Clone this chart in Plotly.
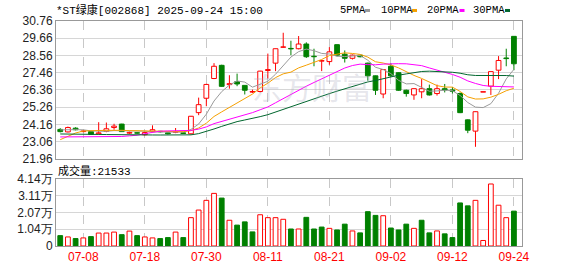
import plotly.graph_objects as go

# ---------------- data ----------------
dates = ["07-03", "07-04", "07-07", "07-08", "07-09", "07-10", "07-11", "07-14", "07-15", "07-16",
         "07-17", "07-18", "07-21", "07-22", "07-23", "07-24", "07-25", "07-28", "07-29", "07-30",
         "07-31", "08-01", "08-04", "08-05", "08-06", "08-07", "08-08", "08-11", "08-12", "08-13",
         "08-14", "08-15", "08-18", "08-19", "08-20", "08-21", "08-22", "08-25", "08-26", "08-27",
         "08-28", "08-29", "09-01", "09-02", "09-03", "09-04", "09-05", "09-08", "09-09", "09-10",
         "09-11", "09-12", "09-15", "09-16", "09-17", "09-18", "09-19", "09-22", "09-23", "09-24"]

opens = [23.84, 23.68, 23.92, 23.70, 23.70, 23.56, 23.72, 23.96, 24.18, 23.60,
         23.62, 23.50, 23.72, 23.71, 23.62, 23.66, 23.62, 23.56, 24.91, 25.83,
         27.09, 27.93, 26.70, 26.89, 26.65, 26.22, 26.26, 27.60, 28.07, 29.08,
         29.00, 28.99, 29.29, 28.50, 28.20, 28.17, 29.25, 28.64, 28.38, 28.58,
         28.07, 27.26, 26.10, 27.87, 27.46, 26.34, 26.04, 26.24, 26.44, 26.13,
         26.44, 26.36, 26.13, 24.45, 23.73, 26.22, 26.60, 27.62, 28.40, 29.78]
highs = [23.92, 24.02, 23.98, 23.78, 23.72, 24.30, 24.28, 24.20, 24.20, 23.70,
         23.64, 23.70, 24.10, 23.74, 23.64, 23.93, 23.66, 24.70, 25.87, 26.75,
         28.07, 27.97, 27.30, 27.40, 26.66, 26.38, 27.58, 28.68, 29.00, 30.01,
         29.50, 29.80, 29.40, 28.99, 28.27, 29.09, 29.27, 28.88, 28.62, 28.60,
         28.10, 27.28, 27.68, 28.07, 27.48, 26.38, 26.46, 27.05, 26.70, 26.70,
         26.74, 26.54, 26.20, 24.48, 24.99, 26.22, 27.53, 28.52, 28.99, 29.80]
lows = [23.65, 23.65, 23.78, 23.66, 23.50, 23.52, 23.66, 23.82, 23.68, 23.55,
        23.56, 23.45, 23.68, 23.64, 23.52, 23.60, 23.55, 23.52, 24.75, 25.32,
        27.05, 26.55, 26.44, 26.60, 26.07, 26.16, 26.20, 27.09, 27.56, 29.06,
        28.58, 28.95, 28.40, 27.87, 27.56, 27.97, 28.50, 28.11, 28.30, 28.44,
        26.95, 26.04, 25.83, 27.20, 26.30, 25.93, 25.73, 25.83, 26.00, 26.00,
        26.20, 26.13, 24.88, 23.60, 22.73, 26.22, 26.04, 27.05, 27.87, 27.62]
closes = [23.70, 23.96, 23.82, 23.74, 23.52, 23.62, 23.88, 24.05, 23.70, 23.65,
          23.60, 23.64, 23.82, 23.69, 23.56, 23.68, 23.58, 24.68, 25.42, 26.71,
          27.87, 26.59, 26.76, 26.74, 26.34, 26.26, 27.56, 27.66, 28.99, 29.10,
          28.98, 29.29, 28.48, 28.48, 28.22, 28.79, 28.58, 28.38, 28.58, 28.48,
          27.26, 26.34, 27.66, 27.26, 26.34, 26.13, 26.44, 26.44, 26.04, 26.44,
          26.36, 26.28, 24.91, 23.79, 24.97, 26.22, 27.53, 28.24, 28.36, 28.03]
# closes of the 29 sessions before the first visible one (for the moving averages)
prior_closes = [23.90, 24.00, 23.95, 23.85, 23.90, 24.05, 23.95, 23.90, 23.92, 23.88,
                23.85, 23.80, 23.75, 23.82, 23.78, 23.80, 23.80, 23.10, 22.85, 22.80,
                21.60, 21.90, 22.50, 23.20, 23.60, 23.80, 23.90, 23.80, 23.85]
volumes = [6400, 5600, 4600, 5000, 5800, 8000, 8000, 8600, 7000, 9200,
           6400, 5600, 5000, 4600, 5200, 8600, 5200, 17500, 22200, 28200,
           32500, 29600, 15900, 12900, 14900, 8700, 19300, 17500, 17500, 16500,
           10500, 10500, 17700, 10500, 11700, 10900, 9900, 13500, 9300, 8100,
           21200, 18900, 18700, 11100, 9900, 13500, 10900, 15900, 8100, 9300,
           7500, 5200, 26600, 24800, 28200, 3400, 38300, 25200, 17500, 21533]
vol_up = [0, 1, 0, 1, 0, 1, 1, 1, 0, 1,
          0, 1, 1, 0, 0, 1, 0, 1, 1, 1,
          1, 0, 1, 0, 0, 0, 1, 1, 1, 1,
          0, 1, 0, 0, 0, 1, 0, 0, 1, 0,
          0, 0, 1, 0, 0, 0, 1, 0, 0, 1,
          0, 0, 0, 0, 1, 1, 1, 1, 1, 0]

ma_periods = [5, 10, 20, 30]
ma_names = ["5PMA", "10PMA", "20PMA", "30PMA"]
price_ticks = [21.96, 23.06, 24.16, 25.26, 26.36, 27.46, 28.56, 29.66, 30.76]
vol_ticks = [0, 10350, 20700, 31050, 41400]
vol_ticktext = ["0", "1.04万", "2.07万", "3.11万", "4.14万"]
date_tick_idx = [3, 11, 19, 27, 35, 43, 51, 59]
title_text = "*ST绿康[002868] 2025-09-24 15:00"
vol_label = "成交量:21533"

# ---------------- styles ----------------
RED = "#ff0000"
GREEN = "#008000"
ma_colors = ["#9a9a9a", "#f5a000", "#ff00ff", "#00662e"]
W, H = 578, 276
ML, MR, MT, MB = 56, 56, 21, 20
PW, PH = W - ML - MR, H - MT - MB
PRICE_BOTTOM_PX, VOL_TOP_PX = 165, 186


def px_x(px):
    return (px - ML) / PW


def px_y(py):
    return (H - MB - py) / PH


n = len(closes)
idx = list(range(n))
up = [c >= o for o, c in zip(opens, closes)]

fig = go.Figure()

# wicks (split around the body so hollow bodies stay hollow)
for flag, col in [(True, RED), (False, GREEN)]:
    xs, ys = [], []
    for i in idx:
        if up[i] != flag:
            continue
        top, bot = max(opens[i], closes[i]), min(opens[i], closes[i])
        xs += [i, i, None, i, i, None]
        ys += [highs[i], top, None, bot, lows[i], None]
    fig.add_trace(go.Scatter(x=xs, y=ys, mode="lines", line=dict(color=col, width=1),
                             xaxis="x", yaxis="y", hoverinfo="skip", connectgaps=False))

# candle bodies
fig.add_trace(go.Bar(
    x=idx,
    base=[min(o, c) for o, c in zip(opens, closes)],
    y=[max(abs(c - o), 0.03) for o, c in zip(opens, closes)],
    width=0.62,
    marker=dict(color=["#ffffff" if u else GREEN for u in up],
                line=dict(color=[RED if u else GREEN for u in up], width=1)),
    xaxis="x", yaxis="y", hoverinfo="skip"))

# moving averages
all_c = prior_closes + closes
off = len(prior_closes)
for p, col in zip(ma_periods, ma_colors):
    ma = [sum(all_c[off + i - p + 1: off + i + 1]) / p for i in idx]
    fig.add_trace(go.Scatter(x=idx, y=ma, mode="lines", line=dict(color=col, width=1),
                             xaxis="x", yaxis="y", hoverinfo="skip"))

# volume
fig.add_trace(go.Bar(
    x=idx, y=volumes, width=0.62,
    marker=dict(color=["#ffffff" if u else GREEN for u in vol_up],
                line=dict(color=[RED if u else GREEN for u in vol_up], width=1)),
    xaxis="x2", yaxis="y2", hoverinfo="skip"))

axis_font = dict(family="Liberation Sans, Arial, sans-serif", size=12, color="#222222")
xcommon = dict(range=[-0.55, 60.05], tickmode="array", tickvals=date_tick_idx,
               showgrid=True, gridcolor="#c8c8c8", griddash="dash", gridwidth=1,
               showline=True, mirror=True, linecolor="#999999", linewidth=1,
               zeroline=False, ticks="", fixedrange=True)
fig.update_layout(
    width=W, height=H,
    margin=dict(l=ML, r=MR, t=MT, b=MB, pad=0),
    paper_bgcolor="white", plot_bgcolor="white",
    showlegend=False, barmode="overlay",
    xaxis=dict(**xcommon, anchor="y", showticklabels=False),
    xaxis2=dict(**xcommon, anchor="y2", matches="x",
                ticktext=[dates[i] for i in date_tick_idx], showticklabels=True,
                tickfont=dict(family="Liberation Sans, Arial, sans-serif", size=12, color=RED)),
    yaxis=dict(domain=[px_y(PRICE_BOTTOM_PX), 1], range=[price_ticks[0], price_ticks[-1]],
               tickmode="array", tickvals=price_ticks, ticktext=[f"{v:.2f}" for v in price_ticks],
               showgrid=True, gridcolor="#d6d6d6", showline=True, mirror=True,
               linecolor="#999999", zeroline=False, ticks="", tickfont=axis_font),
    yaxis2=dict(domain=[0, px_y(VOL_TOP_PX)], range=[vol_ticks[0], vol_ticks[-1]],
                tickmode="array", tickvals=vol_ticks, ticktext=vol_ticktext,
                showgrid=True, gridcolor="#d6d6d6", showline=True, mirror=True,
                linecolor="#999999", zeroline=False, ticks="", tickfont=axis_font),
)

mono = "Liberation Mono, Noto Sans CJK SC, monospace"
annos = [
    dict(text=title_text, x=px_x(54), y=px_y(9.5), xanchor="left", yanchor="middle",
         font=dict(family=mono, size=11, color="#000000")),
    dict(text=vol_label, x=px_x(56), y=px_y(178), xanchor="left", yanchor="middle",
         font=dict(family=mono, size=11, color="#000000")),
    dict(text="东方财富", x=px_x(312), y=px_y(89), xanchor="center", yanchor="middle",
         font=dict(family="Noto Sans CJK SC", size=30, color="rgba(170,170,190,0.3)")),
]
legend_text_px = [337.5, 379, 424.5, 470.5]
legend_dash_px = [365, 412, 459.5, 505]
shapes = []
for name, col, tx, dx in zip(ma_names, ma_colors, legend_text_px, legend_dash_px):
    annos.append(dict(text=name, x=px_x(tx), y=px_y(9.5), xanchor="left", yanchor="middle",
                      font=dict(family=mono, size=10.5, color="#000000")))
    shapes.append(dict(type="line", xref="paper", yref="paper",
                       x0=px_x(dx), x1=px_x(dx + 5), y0=px_y(10), y1=px_y(10),
                       line=dict(color=col, width=3)))
for a in annos:
    a.update(xref="paper", yref="paper", showarrow=False)
fig.update_layout(annotations=annos, shapes=shapes)

fig.write_html("out.html")
